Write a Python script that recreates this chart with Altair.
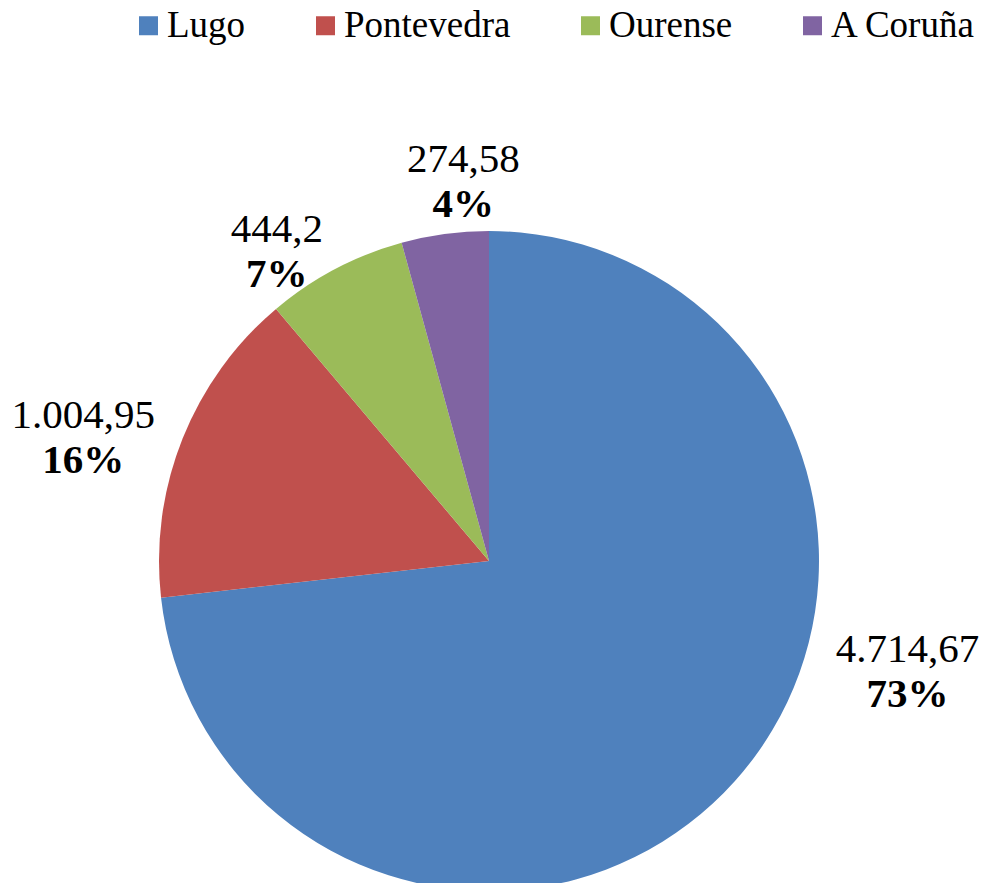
import math
import altair as alt
import pandas as pd

regions = ["Lugo", "Pontevedra", "Ourense", "A Coruña"]
values = [4714.67, 1004.95, 444.2, 274.58]
value_labels = ["4.714,67", "1.004,95", "444,2", "274,58"]
pct_labels = ["73%", "16%", "7%", "4%"]
colors = ["#4F81BD", "#C0504D", "#9BBB59", "#8064A2"]

df = pd.DataFrame({
    "region": regions,
    "value": values,
    "vlabel": value_labels,
    "plabel": pct_labels,
    "order": list(range(len(regions))),
})

W, H = 972, 875
CX, CY, R = 481, 553, 330
FONT = "Liberation Serif"
FS = 41
LEG_FS = 37

color_scale = alt.Scale(domain=regions, range=colors)

base = alt.Chart(df)

pie = base.mark_arc(stroke=None).encode(
    theta=alt.Theta("value:Q", stack=True),
    color=alt.Color(
        "region:N",
        scale=color_scale,
        sort=regions,
        legend=alt.Legend(
            title=None,
            orient="none",
            direction="horizontal",
            legendX=122,
            legendY=-1,
            padding=0,
            symbolType="square",
            symbolSize=361,
            symbolStrokeWidth=0,
            labelFont=FONT,
            labelFontSize=LEG_FS,
            labelColor="black",
            labelOffset=0,
            columnPadding=61,
            symbolOffset=0,
            labelLimit=400,
        ),
    ),
    order=alt.Order("order:Q"),
    x=alt.value(CX),
    y=alt.value(CY),
    radius=alt.value(R),
)

# label placement style per region: (radial distance, angular tweak in degrees)
label_style = {
    "Lugo": (433, -26.9),
    "Pontevedra": (424, -4.8),
    "Ourense": (375, -6.7),
    "A Coruña": (380, 3.8),
}

prep = base.transform_joinaggregate(
    total="sum(value)"
).transform_window(
    cum="sum(value)", sort=[alt.SortField("order")], frame=[None, 0]
).transform_calculate(
    mid="(datum.cum - datum.value / 2) / datum.total"
)

layers = [pie]
for reg, (rad, tweak) in label_style.items():
    sub = prep.transform_filter(alt.datum.region == reg).transform_calculate(
        ang=f"datum.mid + {tweak / 360.0}"
    )
    enc = dict(
        theta=alt.Theta("ang:Q", stack=None,
                        scale=alt.Scale(domain=[0, 1], range=[0, 2 * math.pi])),
        radius=alt.value(rad),
        x=alt.value(CX),
        y=alt.value(CY),
    )
    layers.append(
        sub.mark_text(font=FONT, fontSize=FS, color="black", dy=-22,
                      align="center", baseline="middle").encode(text="vlabel:N", **enc)
    )
    layers.append(
        sub.mark_text(font=FONT, fontSize=FS, fontWeight="bold", color="black", dy=23,
                      align="center", baseline="middle").encode(text="plabel:N", **enc)
    )

chart = alt.layer(*layers).properties(
    width=W, height=H,
    autosize=alt.AutoSizeParams(type="none"),
    padding=0,
).configure_view(stroke=None).resolve_scale(theta="independent")

chart.save("out.html", embed_options={"renderer": "svg", "actions": False})
